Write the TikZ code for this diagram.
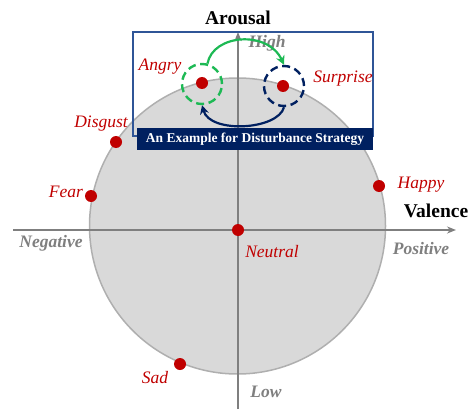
\documentclass[tikz,border=0pt]{standalone}
\usepackage{fontspec}
\setmainfont{Liberation Serif}
\usetikzlibrary{arrows.meta}
\definecolor{lred}{HTML}{C00000}
\definecolor{agray}{HTML}{7F7F7F}
\definecolor{cfill}{HTML}{D9D9D9}
\definecolor{cline}{HTML}{AFAFAF}
\definecolor{navy}{HTML}{002060}
\definecolor{rblue}{HTML}{2F5597}
\definecolor{egreen}{HTML}{1DB954}
\tikzset{
  emo/.style={circle,fill=lred,inner sep=0pt,minimum size=12pt},
  emolab/.style={text=lred,font=\fontsize{17.5}{19}\selectfont\itshape,inner sep=0pt},
  axlab/.style={text=agray,font=\fontsize{17.5}{19}\selectfont\bfseries\itshape,inner sep=0pt},
  axtitle/.style={text=black,font=\fontsize{19.5}{21}\selectfont\bfseries,inner sep=0pt},
  axis/.style={agray,line width=1.6pt,-{Stealth[length=9pt,width=7pt]}},
  ring/.style={circle,line width=2.4pt,minimum size=40pt,inner sep=0pt,dash pattern=on 8pt off 4.6pt}
}
\begin{document}
\begin{tikzpicture}[x=1pt,y=-1pt]
\useasboundingbox (0,0) rectangle (470,409);
% valence circle
\node[circle,fill=cfill,draw=cline,line width=1.5pt,minimum size=296pt,inner sep=0pt] (vc) at (237.5,226) {};
% axes
\coordinate (xl) at (13,230);
\coordinate (xr) at (456,230);
\coordinate (yb) at (238,409);
\coordinate (yt) at (238,32);
\draw[axis] (xl) -- (xr);
\draw[axis] (yb) -- (yt);
% example box
\node[draw=rblue,line width=1.5pt,minimum width=240pt,minimum height=104pt,inner sep=0pt] (box) at (253,84) {};
\node[fill=navy,text=white,font=\fontsize{13.5}{15}\selectfont\bfseries,minimum width=236pt,minimum height=22pt,inner sep=0pt] (banner) at (255,139) {An Example for Disturbance Strategy};
% axis labels
\node[axtitle] (arousal) at (238,18) {Arousal};
\node[axtitle] (valence) at (436,211) {Valence};
\node[axlab] (high) at (267,43) {High};
\node[axlab] (low) at (266,392) {Low};
\node[axlab] (neg) at (51,243) {Negative};
\node[axlab] (pos) at (421,249) {Positive};
% dashed rings
\node[ring,draw=egreen] (gc) at (202,84) {};
\node[ring,draw=navy] (nc) at (284,86) {};
% emotions
\node[emo] (angry) at (202,83) {};
\node[emo] (surprise) at (283,86) {};
\node[emo] (disgust) at (116,142) {};
\node[emo] (fear) at (91,196) {};
\node[emo] (happy) at (379,186) {};
\node[emo] (neutral) at (238,230) {};
\node[emo] (sad) at (180,364) {};
\node[emolab] at (160,67) {Angry};
\node[emolab] at (343,79) {Surprise};
\node[emolab] at (101,124) {Disgust};
\node[emolab] at (66,192) {Fear};
\node[emolab] at (421,185) {Happy};
\node[emolab] at (272,252) {Neutral};
\node[emolab] at (155,378) {Sad};
% strategy arrows
\draw[egreen,line width=2.2pt,-{Stealth[length=9pt,width=9pt]}] (gc.75) .. controls (213,34) and (268,30) .. (nc.north);
\draw[navy,line width=2.2pt,-{Stealth[length=9pt,width=9pt]}] (nc.south) .. controls (278,130) and (210,134) .. (gc.south);
\end{tikzpicture}
\end{document}
